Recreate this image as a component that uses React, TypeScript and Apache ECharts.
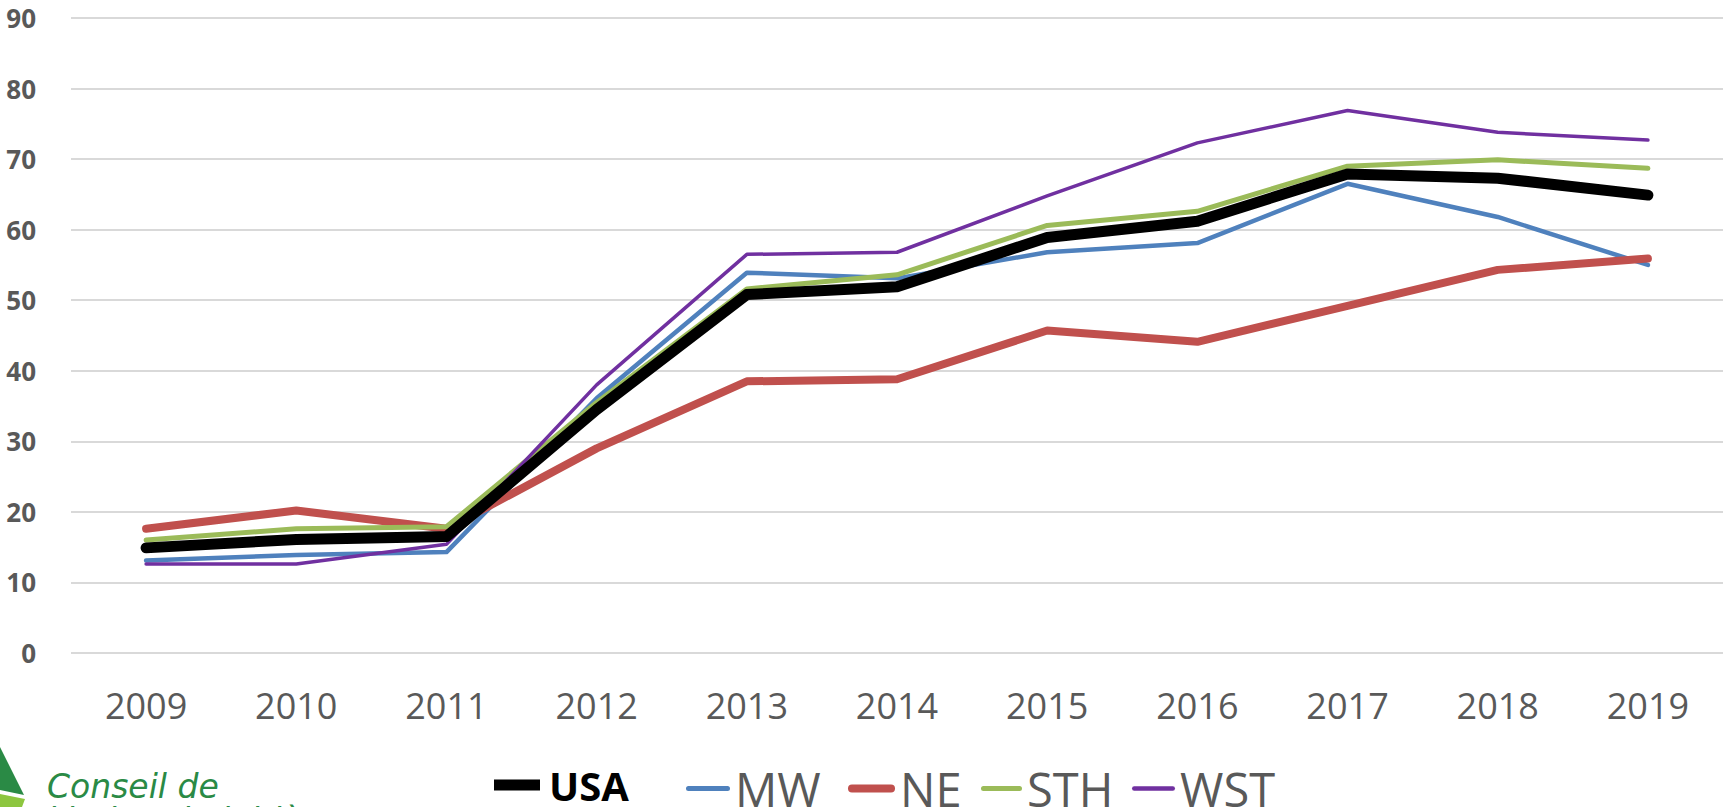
import React, { useEffect, useRef } from "react";
import * as echarts from "echarts";

const years = ["2009", "2010", "2011", "2012", "2013", "2014", "2015", "2016", "2017", "2018", "2019"];
const usa = [14.9, 16.1, 16.5, 34.5, 50.8, 51.9, 58.9, 61.2, 67.9, 67.3, 64.9];
const mw = [13.1, 13.9, 14.3, 36.1, 53.9, 53.1, 56.8, 58.1, 66.5, 61.8, 55.0];
const ne = [17.6, 20.2, 17.6, 29.0, 38.5, 38.8, 45.7, 44.1, 49.2, 54.3, 55.9];
const sth = [16.0, 17.6, 17.9, 35.5, 51.6, 53.6, 60.6, 62.6, 69.0, 69.9, 68.7];
const wst = [12.6, 12.6, 15.4, 38.0, 56.5, 56.8, 64.8, 72.3, 76.9, 73.8, 72.7];

const FONT = "'Open Sans', 'Liberation Sans', sans-serif";
const GRAY = "#595959";

const roundBar = (w: number, h: number) => {
  const r = h / 2;
  return `path://M${r},0H${w - r}A${r},${r},0,0,1,${w - r},${h}H${r}A${r},${r},0,0,1,${r},0Z`;
};

export default function App() {
  const ref = useRef<HTMLDivElement>(null);
  useEffect(() => {
    if (!ref.current) return;
    const chart = echarts.init(ref.current, null, { renderer: "svg" });
    const mk = (name: string, data: number[], color: string, width: number, z: number) => ({
      name,
      type: "line",
      data,
      symbol: "none",
      z,
      lineStyle: { color, width, cap: "round", join: "round" },
      itemStyle: { color },
    });
    const leg = (name: string, left: number, w: number, icon: string, textStyle: any) => ({
      left,
      top: 760,
      itemWidth: w,
      itemHeight: 14,
      icon,
      textStyle: { fontSize: 47, color: GRAY, fontFamily: FONT, lineHeight: 40, ...textStyle },
      data: [name],
    });
    chart.setOption({
      animation: false,
      backgroundColor: "#ffffff",
      textStyle: { fontFamily: FONT },
      grid: { left: 71, right: 0, top: 18, bottom: 154, containLabel: false },
      xAxis: {
        type: "category",
        data: years,
        boundaryGap: true,
        axisLine: { show: false },
        axisTick: { show: false },
        axisLabel: { color: GRAY, fontSize: 36, fontFamily: FONT, margin: 34 },
      },
      yAxis: {
        type: "value",
        min: 0,
        max: 90,
        interval: 10,
        axisLine: { show: false },
        axisTick: { show: false },
        splitLine: { lineStyle: { color: "#D9D9D9", width: 2 } },
        axisLabel: { color: GRAY, fontSize: 26, fontWeight: "bold", fontFamily: FONT, margin: 35 },
      },
      legend: [
        leg("USA", 489, 46, "path://M0,0H46V11H0Z", { fontWeight: "bold", color: "#000000", fontSize: 40, padding: [0, 0, 0, 4] }),
        leg("MW", 681, 44, roundBar(44, 5), {}),
        leg("NE", 843, 47, roundBar(47, 8), {}),
        leg("STH", 976, 41, roundBar(41, 5), {}),
        leg("WST", 1127, 43, roundBar(43, 4.5), {}),
      ],
      graphic: [
        { type: "polygon", shape: { points: [[0, 747], [24, 795], [0, 790]] }, style: { fill: "#2A8A45" } },
        { type: "polygon", shape: { points: [[0, 794], [25, 799], [22, 807], [0, 807]] }, style: { fill: "#8DC63F" } },
        {
          type: "text",
          x: 47,
          y: 769,
          style: {
            text: "Conseil de\nl'industrie laitière",
            fill: "#2A8A45",
            font: "italic 33px 'DejaVu Sans', sans-serif",
            lineHeight: 34,
            verticalAlign: "top",
          },
        },
      ],
      series: [
        mk("MW", mw, "#4F81BD", 4.5, 2),
        mk("NE", ne, "#C0504D", 8, 3),
        mk("STH", sth, "#9BBB59", 5, 4),
        mk("WST", wst, "#7030A0", 3.5, 5),
        mk("USA", usa, "#000000", 11, 6),
      ],
    });
    return () => chart.dispose();
  }, []);
  return <div ref={ref} style={{ width: 1723, height: 807, position: "absolute", left: 0, top: 0 }} />;
}
